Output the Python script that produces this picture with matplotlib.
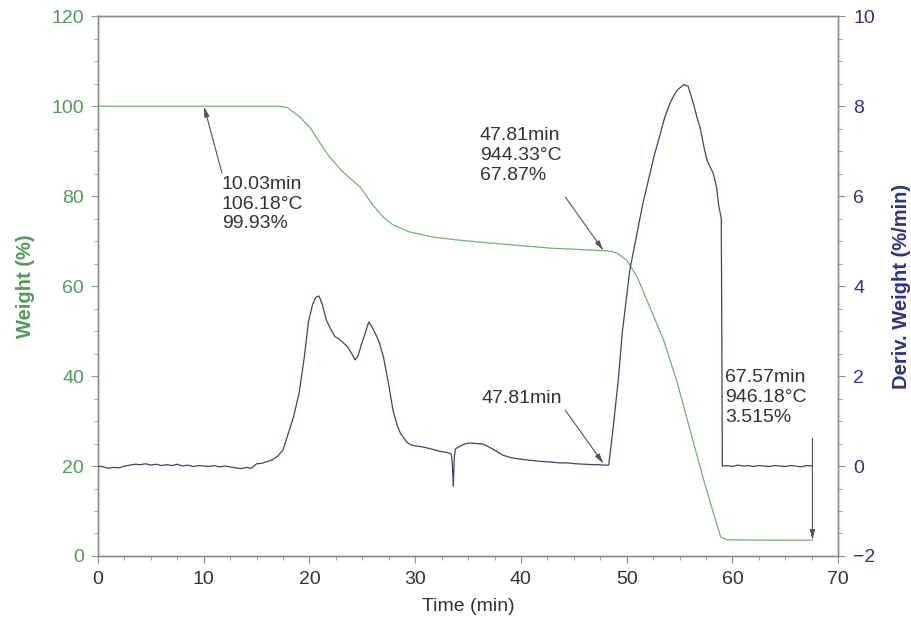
import numpy as np
import matplotlib.pyplot as plt
from matplotlib.ticker import MultipleLocator

plt.rcParams['font.family'] = ['Liberation Sans', 'DejaVu Sans']

# weight loss curve (%)
t_w = [0, 17.0, 17.9, 19.1, 20.1, 21.0, 21.9, 23.2, 24.8, 26.0, 27.0, 27.9, 29.5,
       31.7, 34.2, 37.0, 40.0, 43.0, 45.0, 47.81, 48.6, 49.1, 50.0, 51.0, 52.2,
       53.5, 54.8, 56.0, 57.2, 58.6, 58.9, 59.5, 63.0, 67.57]
weight = [100, 100, 99.7, 97.6, 95.1, 91.8, 88.7, 85.3, 82.0, 78.0, 75.3, 73.6, 72.0,
          70.9, 70.2, 69.6, 69.0, 68.4, 68.2, 67.87, 67.7, 67.3, 65.8, 62.0, 55.3,
          48.0, 38.4, 28.0, 17.6, 6.4, 4.2, 3.6, 3.52, 3.515]

# derivative weight (%/min)
t_d = [0, 0.5, 1, 1.5, 2, 2.5, 3, 3.5, 4, 4.5, 5, 5.5, 6, 6.5, 7, 7.5, 8, 8.5, 9, 9.5,
       10, 10.5, 11, 11.5, 12, 12.5, 13, 13.5, 14, 14.5, 15, 15.5, 16, 16.5, 17, 17.5,
       18, 18.5, 19, 19.5, 19.9, 20.3, 20.6, 20.9, 21.2, 21.6, 22.0, 22.4, 22.8, 23.2,
       23.6, 24.0, 24.3, 24.6, 24.9, 25.2, 25.6, 25.9, 26.2, 26.6, 27.0, 27.5, 27.9,
       28.3, 28.6, 29.2, 29.6, 30.0, 30.8, 31.5, 32.3, 33.0, 33.4, 33.5, 33.6, 33.7,
       33.8, 34.3, 34.8, 35.2, 35.8, 36.4, 37.0, 37.6, 38.3, 39.0, 39.7, 40.4, 41.2,
       42.0, 42.8, 43.6, 44.4, 45.2, 46.0, 46.8, 47.4, 47.8, 48.3, 48.7, 49.2, 49.6,
       50.3, 51.0, 51.5, 52.0, 52.6, 53.2, 53.6, 54.1, 54.5, 54.8, 55.1, 55.4, 55.6,
       55.8, 56.0, 56.3, 56.6, 57.0, 57.3, 57.6, 57.9, 58.2, 58.5, 58.7, 58.95, 59.05,
       59.5, 60, 60.5, 61, 61.5, 62, 62.5, 63, 63.5, 64, 64.5, 65, 65.5, 66, 66.5, 67,
       67.57]
deriv = [0.00, -0.02, -0.05, -0.03, -0.04, 0.00, 0.02, 0.04, 0.03, 0.05, 0.02, 0.04,
         0.01, 0.03, 0.01, 0.04, 0.00, 0.02, -0.01, 0.01, 0.00, -0.01, 0.01, -0.02,
         0.00, -0.02, -0.04, -0.06, -0.03, -0.05, 0.05, 0.06, 0.10, 0.14, 0.22, 0.36,
         0.73, 1.10, 1.60, 2.40, 3.20, 3.60, 3.75, 3.78, 3.60, 3.24, 3.05, 2.88, 2.82,
         2.74, 2.65, 2.50, 2.36, 2.45, 2.70, 2.90, 3.20, 3.10, 2.96, 2.75, 2.42, 1.80,
         1.24, 0.90, 0.73, 0.53, 0.47, 0.45, 0.42, 0.38, 0.33, 0.30, 0.27, 0.10, -0.45,
         0.20, 0.38, 0.45, 0.50, 0.51, 0.50, 0.49, 0.42, 0.34, 0.24, 0.19, 0.16, 0.14,
         0.12, 0.10, 0.09, 0.07, 0.07, 0.05, 0.04, 0.03, 0.03, 0.02, 0.02, 0.80, 1.90,
         3.00, 4.36, 5.20, 5.80, 6.30, 6.90, 7.40, 7.75, 8.07, 8.25, 8.36, 8.42, 8.48,
         8.46, 8.45, 8.30, 8.07, 7.80, 7.47, 7.10, 6.80, 6.65, 6.50, 6.20, 5.80, 5.50,
         0.00, 0.01, -0.01, 0.02, 0.00, 0.01, -0.01, 0.01, 0.00, -0.01, 0.01, 0.00,
         -0.01, 0.01, 0.00, -0.02, 0.01, 0.00]

green = '#4f9d5a'
wline = '#6db37a'
blue = '#2e3190'
dline = '#3d4279'
grey = '#8a8a8a'
txt = '#333333'

fig = plt.figure(figsize=(9.11, 6.24), dpi=100)
ax = fig.add_axes([0.1076, 0.109, 0.8124, 0.865])
ax2 = ax.twinx()

ax.plot(t_w, weight, color=wline, lw=0.9, zorder=3)
ax2.plot(t_d, deriv, color=dline, lw=0.9, zorder=3)

ax.set_xlim(0, 70)
ax.set_ylim(0, 120)
ax2.set_ylim(-2, 10)
ax.xaxis.set_major_locator(MultipleLocator(10))
ax.xaxis.set_minor_locator(MultipleLocator(2.5))
ax.yaxis.set_major_locator(MultipleLocator(20))
ax.yaxis.set_minor_locator(MultipleLocator(5))
ax2.yaxis.set_major_locator(MultipleLocator(2))
ax2.yaxis.set_minor_locator(MultipleLocator(0.5))

for a in (ax, ax2):
    for s in a.spines.values():
        s.set_color(grey)
        s.set_linewidth(1.0)
ax.spines['left'].set_color('#86a88a')
ax2.spines['right'].set_color('#8a8aa8')

ax.tick_params(axis='x', which='both', direction='out', colors=grey, labelcolor=txt,
               labelsize=14, pad=6)
ax.tick_params(axis='y', which='both', direction='out', colors='#86a88a',
               labelcolor=green, labelsize=14, pad=5)
ax2.tick_params(axis='y', which='both', direction='out', colors='#8a8aa8',
                labelcolor=blue, labelsize=14, pad=6)
for a in (ax, ax2):
    a.tick_params(which='major', length=5)
    a.tick_params(which='minor', length=3)

ax.set_xlabel('Time (min)', fontsize=14, color=txt, labelpad=7)
ax.set_ylabel('Weight (%)', fontsize=14.5, color=green, fontweight='bold', labelpad=12)
ax2.set_ylabel('Deriv. Weight (%/min)', fontsize=14.5, color=blue, fontweight='bold',
               labelpad=12)

arrow = dict(arrowstyle='-|>,head_length=0.6,head_width=0.15', color='#555555', lw=0.8,
             shrinkA=0, shrinkB=0)

ax.text(11.7, 84.5, '10.03min\n106.18°C\n99.93%', fontsize=14, color=txt,
        ha='left', va='top', linespacing=1.2)
ax.annotate('', xy=(10.03, 99.93), xytext=(11.73, 85.1), arrowprops=arrow)

ax.text(36.1, 95.3, '47.81min\n944.33°C\n67.87%', fontsize=14, color=txt,
        ha='left', va='top', linespacing=1.2)
ax.annotate('', xy=(47.81, 67.87), xytext=(44.2, 79.8), arrowprops=arrow)

ax2.text(36.3, 1.51, '47.81min', fontsize=14, color=txt, ha='left', va='center')
ax2.annotate('', xy=(47.81, 0.05), xytext=(44.2, 1.24), arrowprops=arrow)

ax.text(59.3, 41.5, '67.57min\n946.18°C\n3.515%', fontsize=14, color=txt,
        ha='left', va='top', linespacing=1.2)
ax.annotate('', xy=(67.57, 3.515), xytext=(67.57, 26.2), arrowprops=arrow)

fig.savefig('out.png', dpi=100)
